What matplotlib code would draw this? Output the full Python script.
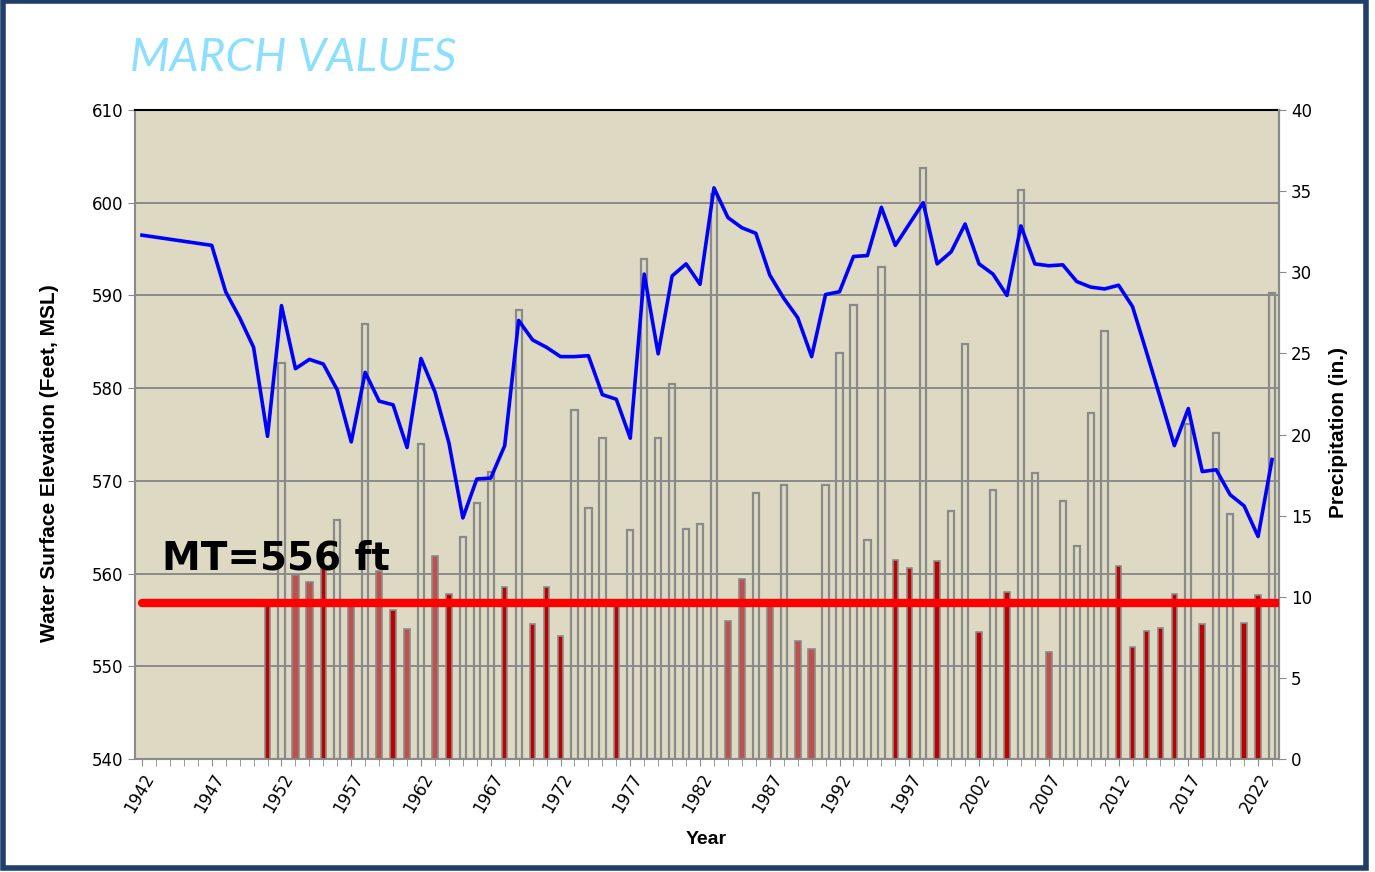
import matplotlib
matplotlib.use("Agg")
import matplotlib.pyplot as plt
from matplotlib.patches import Rectangle
import numpy as np

# ---------------- data ----------------
title = "MARCH VALUES"
mt_label = "MT=556 ft"
mt_level = 556.8

line_years = [1942, 1947, 1948, 1949, 1950] + list(range(1951, 2024))
elevation = [596.5, 595.4, 590.4, 587.6, 584.4,
             574.8, 588.9, 582.1, 583.1, 582.6, 579.8, 574.2, 581.7, 578.6, 578.2,
             573.6, 583.2, 579.6, 574.1, 566.0, 570.2, 570.3, 573.8, 587.3, 585.2,
             584.4, 583.4, 583.4, 583.5, 579.3, 578.8, 574.6, 592.3, 583.7, 592.1,
             593.4, 591.2, 601.6, 598.4, 597.3, 596.7, 592.2, 589.7, 587.6, 583.4,
             590.1, 590.4, 594.2, 594.3, 599.5, 595.4, 597.7, 600.0, 593.4, 594.7,
             597.7, 593.4, 592.3, 590.0, 597.5, 593.4, 593.2, 593.3, 591.5, 590.9,
             590.7, 591.1, 588.8, 583.9, 578.9, 573.8, 577.8, 571.0, 571.2, 568.5,
             567.3, 564.0, 572.3]

bar_years = list(range(1951, 2024))
precip = [9.6, 24.4, 11.35, 10.9, 11.8, 14.7, 9.5, 26.8, 11.6, 9.2,
          8.0, 19.4, 12.5, 10.2, 13.7, 15.8, 17.7, 10.6, 27.7, 8.3,
          10.6, 7.6, 21.5, 15.5, 19.8, 9.5, 14.1, 30.8, 19.8, 23.1,
          14.2, 14.5, 34.8, 8.5, 11.1, 16.4, 9.5, 16.9, 7.25, 6.8,
          16.9, 25.0, 28.0, 13.5, 30.3, 12.25, 11.8, 36.4, 12.2, 15.3,
          25.6, 7.85, 16.6, 10.3, 35.1, 17.6, 6.6, 15.9, 13.1, 21.3,
          26.4, 11.9, 6.9, 7.9, 8.1, 10.2, 20.65, 8.3, 20.1, 15.1,
          8.4, 10.1, 28.7]
muted_years = [1953, 1954, 1957, 1959, 1961, 1963, 1984, 1985, 1987, 1989, 1990, 2007]
bright_years = [1951, 1955, 1960, 1964, 1968, 1970, 1971, 1972, 1976, 1996, 1997,
                1999, 2002, 2004, 2012, 2013, 2014, 2015, 2016, 2018, 2021, 2022]

xtick_years = list(range(1942, 2023, 5))
left_ticks = list(range(540, 611, 10))
right_ticks = list(range(0, 41, 5))

# ---------------- styling ----------------
W, H = 1375, 872
fig = plt.figure(figsize=(W / 100, H / 100), dpi=100)
fig.patch.set_facecolor("white")

L, R, T, B = 135, 1279, 110, 759
rect = [L / W, 1 - B / H, (R - L) / W, (B - T) / H]
bg = "#DDD9C3"
grid_c = "#8A8A8A"

ax = fig.add_axes(rect)
ax.set_facecolor(bg)
ax.set_xlim(1941.5, 2023.5)
ax.set_ylim(540, 610)
ax.set_yticks(left_ticks)
ax.yaxis.grid(True, color=grid_c, lw=1.4)
ax.set_axisbelow(True)
for s in ["left", "right", "bottom"]:
    ax.spines[s].set_color("#8A8A8A")
    ax.spines[s].set_linewidth(1.5)
ax.spines["top"].set_color("black")
ax.spines["top"].set_linewidth(1.5)

ax.set_xticks(xtick_years)
ax.set_xticks(list(range(1942, 2024)), minor=True)
ax.set_xticklabels([str(y) for y in xtick_years], rotation=60, ha="right",
                   rotation_mode="anchor", fontsize=12, family="DejaVu Sans")
ax.tick_params(axis="x", which="both", length=5, color="#8A8A8A", direction="out", pad=3)
ax.tick_params(axis="y", length=5, color="#8A8A8A", labelsize=12)

ax.set_ylabel("Water Surface Elevation (Feet, MSL)", family="Liberation Sans",
              fontweight="bold", fontsize=15)
ax.yaxis.set_label_coords((59 - L) / (R - L), (B - 463) / (B - T))
ax.set_xlabel("Year", family="Liberation Sans", fontweight="bold", fontsize=14)
ax.xaxis.set_label_coords((706 - L) / (R - L), -(831 - B) / (B - T))

# bars on right axis
ax2 = ax.twinx()
ax2.set_ylim(0, 40)
ax2.set_yticks(right_ticks)
ax2.tick_params(axis="y", length=5, color="#8A8A8A", labelsize=12)
ax2.spines["right"].set_color("#8A8A8A")
ax2.spines["right"].set_linewidth(1.5)
for s in ["left", "top", "bottom"]:
    ax2.spines[s].set_visible(False)
ax2.set_ylabel("Precipitation (in.)", family="Liberation Sans", fontweight="bold",
               fontsize=15)
ax2.yaxis.set_label_coords((1329 - L) / (R - L), (B - 433) / (B - T))

for yr, v in zip(bar_years, precip):
    if yr in muted_years:
        ax2.bar(yr, v, width=0.45, color="#C0504D", edgecolor="#8A8A8A", lw=1.2, zorder=2)
    elif yr in bright_years:
        ax2.bar(yr, v, width=0.40, color="#C00000", edgecolor="#8A8A8A", lw=1.2, zorder=2)
    else:
        ax2.bar(yr, v, width=0.45, fill=False, edgecolor="#8A8A8A", lw=1.6, zorder=2)

# line on top
ax3 = ax.twinx()
ax3.set_ylim(540, 610)
ax3.set_yticks([])
for s in ax3.spines.values():
    s.set_visible(False)
ax3.plot(line_years, elevation, color="#0000FF", lw=2.6, zorder=3)
ax3.plot([line_years[0], 2023.4], [mt_level, mt_level], color="#FF0000", lw=6,
         solid_capstyle="round", zorder=4)
ax3.text(1943.4, 560.4, mt_label, fontsize=28, fontweight="bold",
         family="DejaVu Sans", color="black", va="baseline", ha="left", zorder=5)

fig.text(130 / W, 1 - 71 / H, title, fontsize=33, fontstyle="italic",
         family="Lato", color="#8DDFFF", ha="left", va="baseline")

# outer frame
fig.patches.append(Rectangle((3 / W, 4 / H), (1366 - 3) / W, (H - 5) / H,
                             transform=fig.transFigure, fill=False,
                             ec="#1F3F6A", lw=4.0))

fig.savefig("out.png", dpi=100)
